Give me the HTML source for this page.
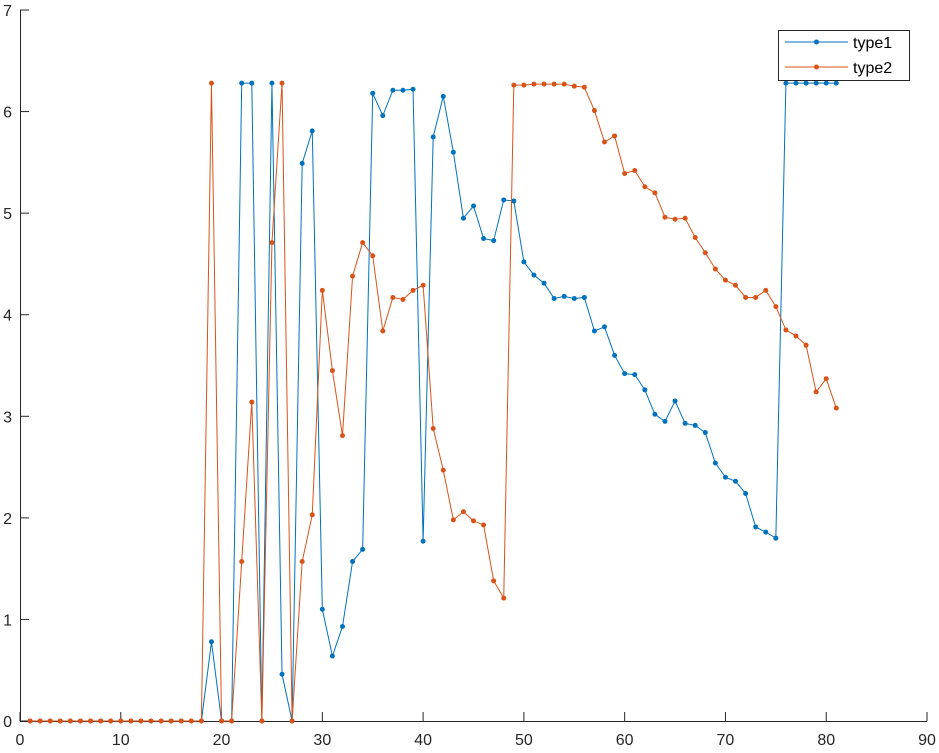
<!DOCTYPE html>
<html><head><meta charset="utf-8"><style>
body{margin:0;background:#fff;}
svg{display:block;font-family:"Liberation Sans",Arial,sans-serif;}
</style></head><body>
<svg id="chart" width="939" height="753" viewBox="0 0 939 753" xmlns="http://www.w3.org/2000/svg">
<g id="axes"></g>
<g id="series"></g>
<g id="legend">
<rect x="778.5" y="30.5" width="131" height="50" fill="#fff" stroke="#262626" stroke-width="1"/>
<g>
<line x1="785" y1="42" x2="848" y2="42" stroke="#0072BD" stroke-width="1"/><circle cx="816.5" cy="42" r="2.5" fill="#0072BD"/>
<text x="853" y="48" font-size="16" fill="#000">type1</text></g>
<g>
<line x1="785" y1="67" x2="848" y2="67" stroke="#D95319" stroke-width="1"/><circle cx="816.5" cy="67" r="2.5" fill="#D95319"/>
<text x="853" y="73" font-size="16" fill="#000">type2</text></g>
</g>
</svg>
<script>
const xTicks=[0,10,20,30,40,50,60,70,80,90];
const yTicks=[0,1,2,3,4,5,6,7];
const type1=[0,0,0,0,0,0,0,0,0,0,0,0,0,0,0,0,0,0,0.78,0,0,6.28,6.28,0,6.28,0.46,0,5.49,5.81,1.1,0.64,0.93,1.57,1.69,6.18,5.96,6.21,6.21,6.22,1.77,5.75,6.15,5.6,4.95,5.07,4.75,4.73,5.13,5.12,4.52,4.39,4.31,4.16,4.18,4.16,4.17,3.84,3.88,3.6,3.42,3.41,3.26,3.02,2.95,3.15,2.93,2.91,2.84,2.54,2.4,2.36,2.24,1.91,1.86,1.8,6.28,6.28,6.28,6.28,6.28,6.28];
const type2=[0,0,0,0,0,0,0,0,0,0,0,0,0,0,0,0,0,0,6.28,0,0,1.57,3.14,0,4.71,6.28,0,1.57,2.03,4.24,3.45,2.81,4.38,4.71,4.58,3.84,4.17,4.15,4.24,4.29,2.88,2.47,1.98,2.06,1.97,1.93,1.38,1.21,6.26,6.26,6.27,6.27,6.27,6.27,6.25,6.24,6.01,5.7,5.76,5.39,5.42,5.26,5.2,4.96,4.94,4.95,4.76,4.61,4.45,4.34,4.29,4.17,4.17,4.24,4.08,3.85,3.79,3.7,3.24,3.37,3.08];
const X0=20,X1=927,Y0=721,Y1=10;
const sx=v=>X0+(v-0)/(90-0)*(X1-X0);
const sy=v=>Y0-(v-0)/(7-0)*(Y0-Y1);
const NS="http://www.w3.org/2000/svg";
function mk(t,a,p){const e=document.createElementNS(NS,t);for(const k in a)e.setAttribute(k,a[k]);p.appendChild(e);return e;}
const ax=document.getElementById('axes');
const xl=mk('line',{x1:X0,y1:Y0+0.5,x2:X1,y2:Y0+0.5,stroke:'#262626'},ax);


const yl=mk('line',{x1:X0+0.5,y1:Y1,x2:X0+0.5,y2:Y0,stroke:'#262626'},ax);


xTicks.forEach(v=>{const x=sx(v);
mk('line',{x1:x,y1:Y0,x2:x,y2:Y0-9,stroke:'#262626'},ax);
const t=mk('text',{x:x,y:Y0+24,'text-anchor':'middle','font-size':16,fill:'#262626'},ax);t.textContent=v;

});
yTicks.forEach(v=>{const y=sy(v);
mk('line',{x1:X0,y1:y,x2:X0+9,y2:y,stroke:'#262626'},ax);
const t=mk('text',{x:X0-8,y:y+6,'text-anchor':'end','font-size':16,fill:'#262626'},ax);t.textContent=v;

});
const sg=document.getElementById('series');
[[type1,'#0072BD','type1'],[type2,'#D95319','type2']].forEach(([d,c,n])=>{
const g=mk('g',{},sg);


const pl=mk('polyline',{points:d.map((v,i)=>sx(i+1)+','+sy(v)).join(' '),fill:'none',stroke:c,'stroke-width':1},g);


d.forEach((v,i)=>{const p=mk('circle',{cx:sx(i+1),cy:sy(v),r:2.5,fill:c},g);

});
});
</script>
</body></html>
